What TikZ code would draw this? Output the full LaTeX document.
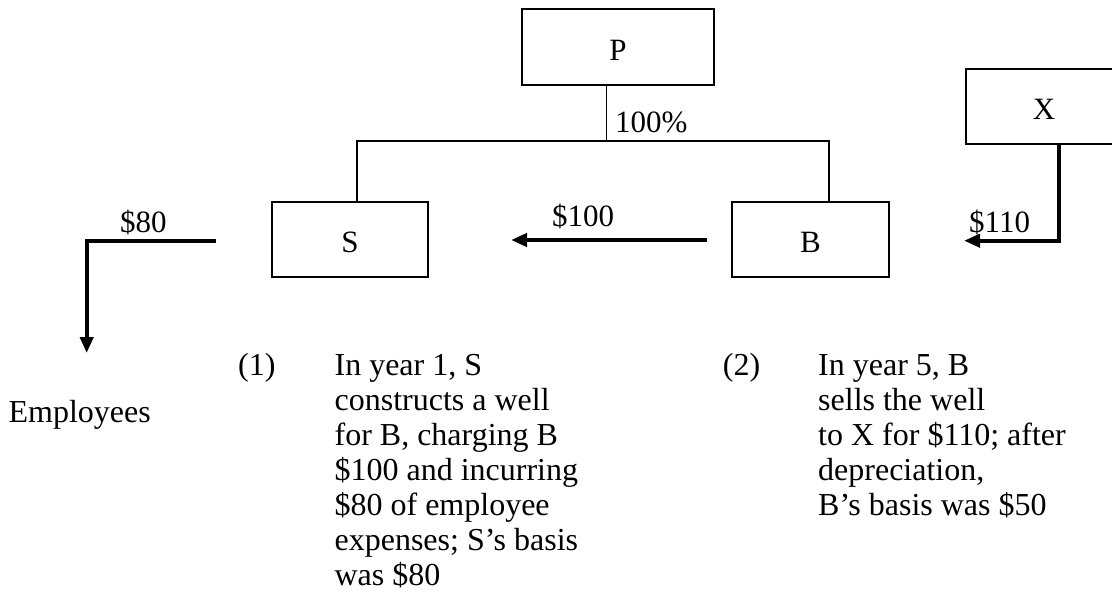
\documentclass[tikz,border=0pt]{standalone}
\usepackage{fontspec}
\setmainfont{Liberation Serif}
\usetikzlibrary{arrows.meta}
\newcommand\diagfont{\fontsize{32pt}{35pt}\selectfont}
\newcommand\lblfont{\fontsize{31pt}{35pt}\selectfont}
\begin{document}
\begin{tikzpicture}[x=1pt,y=-1pt,
  box/.style={draw, line width=1.3pt, inner sep=0pt, font=\lblfont, text height=26pt, text depth=0pt},
  thinline/.style={line width=1.3pt},
  flow/.style={line width=4pt, -{Triangle[length=16pt,width=13pt]}},
  lbl/.style={anchor=base west, inner sep=0pt, font=\lblfont},
  para/.style={anchor=base west, inner sep=0pt, font=\diagfont}]
\useasboundingbox (0,0) rectangle (1112,598);
\clip (0,0) rectangle (1112,598);
% boxes
\node[box, minimum width=192pt, minimum height=76pt] (P) at (618,47) {P};
\node[box, minimum width=156pt, minimum height=75pt] (S) at (350,239.5) {S};
\node[box, minimum width=157pt, minimum height=75pt] (B) at (810.5,239.5) {B};
\node[box, minimum width=156pt, minimum height=75pt] (X) at (1044,106.5) {X};
% ownership lines
\coordinate (jP) at (606.7,141);
\coordinate (jS) at (357,141);
\coordinate (jB) at (829,141);
\draw[thinline] (P.south -| jP) -- (jP);
\draw[thinline] (S.north -| jS) -- (jS) -- (jB) -- (B.north -| jB);
\node[lbl] (pct) at (615,132) {100\%};
% flows
\coordinate (f100a) at (707,240);
\coordinate (f100b) at (511,240);
\draw[flow] (f100a) -- (f100b);
\node[lbl] (l100) at (552,226) {\$100};
\coordinate (f80a) at (216,240.7);
\coordinate (f80c) at (86.7,240.7);
\coordinate (f80b) at (86.7,353);
\draw[flow] (f80a) -- (f80c) -- (f80b);
\node[lbl] (l80) at (120,232) {\$80};
\coordinate (f110c) at (1059,240.7);
\coordinate (f110b) at (964,240.7);
\draw[flow] (X.south -| f110c) -- (f110c) -- (f110b);
\node[lbl] (l110) at (969,232) {\$110};
% texts
\node[para, anchor=base east] (emp) at (151,422) {Employees};
\node[para] (n1) at (238,375) {(1)};
\node[para] (t1) at (334.4,375) {\begin{tabular}[t]{@{}l@{}}In year 1, S\\constructs a well\\for B, charging B\\\$100 and incurring\\\$80 of employee\\expenses; S’s basis\\was \$80\end{tabular}};
\node[para] (n2) at (722.7,375) {(2)};
\node[para] (t2) at (818,375) {\begin{tabular}[t]{@{}l@{}}In year 5, B\\sells the well\\to X for \$110; after\\depreciation,\\B’s basis was \$50\end{tabular}};
\end{tikzpicture}
\end{document}
